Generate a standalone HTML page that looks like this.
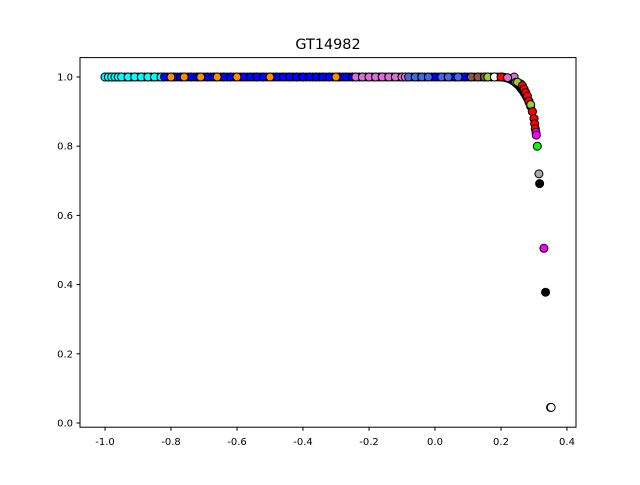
<!DOCTYPE html>
<html><head><meta charset="utf-8"><style>
body{margin:0;background:#fff}
text{font-family:"DejaVu Sans","Liberation Sans",sans-serif}
</style></head><body>
<svg id="chart" width="640" height="480" xmlns="http://www.w3.org/2000/svg">
<rect width="640" height="480" fill="#fff"/>
<text x="328" y="49" font-size="14.4" text-anchor="middle">GT14982</text>
<g id="marks"></g>
<rect x="80" y="57.6" width="496" height="369.6" fill="none" stroke="#000" stroke-width="1"/>
<g id="axes"></g>
</svg>
<script>
const xTicks=[-1.0,-0.8,-0.6,-0.4,-0.2,0.0,0.2,0.4];
const yTicks=[0.0,0.2,0.4,0.6,0.8,1.0];
const cyanX=[-1.0,-0.99,-0.98,-0.97,-0.96,-0.95,-0.93,-0.91,-0.89,-0.87,-0.85,-0.83];
const orangeX=[-0.8,-0.76,-0.71,-0.66,-0.6,-0.5,-0.3];
const blueX=[-0.82,-0.79,-0.77,-0.74,-0.72,-0.69,-0.67,-0.64,-0.62,-0.58,-0.56,-0.54,-0.52,-0.48,-0.46,-0.44,-0.42,-0.4,-0.38,-0.36,-0.34,-0.32,-0.29,-0.27,-0.25,-0.05,0.0,0.06,0.09];
const orchidX=[-0.24,-0.22,-0.2,-0.18,-0.16,-0.14,-0.12,-0.1,-0.09,0.24];
const royalX=[-0.08,-0.06,-0.04,-0.02,0.02,0.04,0.07];
const brownX=[0.11,0.13,0.15];
const greenYX=[0.16,0.245,0.26];
const whiteX=[0.18];
const backX=[0.205,0.21,0.215,0.22,0.225,0.23,0.235,0.24,0.245,0.25,0.255,0.26,0.265,0.27,0.275,0.28,0.285,0.29,0.295,0.3];
const backY=[1.0,0.999,0.998,0.997,0.995,0.993,0.99,0.987,0.983,0.979,0.974,0.968,0.962,0.955,0.947,0.938,0.927,0.915,0.9,0.88];
const curveX=[0.2,0.22,0.25,0.265,0.27,0.275,0.28,0.285,0.29,0.295,0.3,0.302,0.304,0.306,0.307];
const curveY=[1.0,0.998,0.985,0.975,0.965,0.955,0.945,0.93,0.92,0.9,0.88,0.865,0.85,0.84,0.832];
const curveC=["red","orchid","yellowgreen","red","red","red","red","red","yellowgreen","red","red","red","red","magenta","magenta"];
const tailX=[0.31,0.315,0.317,0.33,0.335,0.35,0.352];
const tailY=[0.8,0.72,0.692,0.505,0.378,0.045,0.045];
const tailC=["lime","#aaaaaa","black","magenta","black","white","white"];
const NS="http://www.w3.org/2000/svg";
const sx=v=>105+(v+1)*330, sy=v=>423-v*346;
const marks=document.getElementById('marks'), axes=document.getElementById('axes');
function dot(x,y,c){
 const e=document.createElementNS(NS,'circle');
 e.setAttribute('cx',sx(x));e.setAttribute('cy',sy(y));e.setAttribute('r',4);
 e.setAttribute('fill',c);e.setAttribute('stroke','#000');e.setAttribute('stroke-width',1);
 
 
 marks.appendChild(e);
}
for(let i=0;i<=120;i++){dot(-1+i*0.01,1,'black');}
backX.forEach((x,i)=>dot(x,backY[i],'black'));
cyanX.forEach(x=>dot(x,1,'cyan'));
blueX.forEach(x=>dot(x,1,'blue'));
orangeX.forEach(x=>dot(x,1,'darkorange'));
orchidX.forEach(x=>dot(x,1,'orchid'));
royalX.forEach(x=>dot(x,1,'royalblue'));
brownX.forEach(x=>dot(x,1,'#8c564b'));
greenYX.forEach((x,i)=>dot(x,i?0.99-i*0.005:1,'yellowgreen'));
whiteX.forEach(x=>dot(x,1,'white'));
curveX.forEach((x,i)=>dot(x,curveY[i],curveC[i]));
tailX.forEach((x,i)=>dot(x,tailY[i],tailC[i]));
xTicks.forEach(t=>{
 const l=document.createElementNS(NS,'line');
 l.setAttribute('x1',sx(t));l.setAttribute('x2',sx(t));l.setAttribute('y1',427.2);l.setAttribute('y2',430.7);l.setAttribute('stroke','#000');
 
 
 axes.appendChild(l);
 const tx=document.createElementNS(NS,'text');
 tx.setAttribute('x',sx(t));tx.setAttribute('y',445);tx.setAttribute('font-size',10);tx.setAttribute('text-anchor','middle');
 tx.textContent=t.toFixed(1);
 
 
 axes.appendChild(tx);
});
yTicks.forEach(t=>{
 const l=document.createElementNS(NS,'line');
 l.setAttribute('x1',76.5);l.setAttribute('x2',80);l.setAttribute('y1',sy(t));l.setAttribute('y2',sy(t));l.setAttribute('stroke','#000');
 
 
 axes.appendChild(l);
 const tx=document.createElementNS(NS,'text');
 tx.setAttribute('x',73);tx.setAttribute('y',sy(t)+3.5);tx.setAttribute('font-size',10);tx.setAttribute('text-anchor','end');
 tx.textContent=t.toFixed(1);
 
 
 axes.appendChild(tx);
});
</script>
</body></html>
